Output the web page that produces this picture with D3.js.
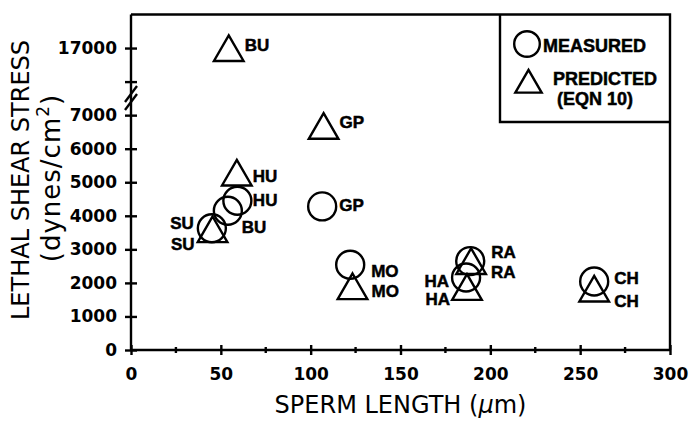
<!DOCTYPE html>
<html>
<head>
<meta charset="utf-8">
<script src="https://cdn.jsdelivr.net/npm/d3@7"></script>
<style>
  body { margin: 0; background: #fff; }
  svg { display: block; }
  .tick text { font-family: "DejaVu Sans", sans-serif; font-weight: bold; font-size: 17px; fill: #000; }
  .pt-label { font-family: "Liberation Sans", Arial, sans-serif; font-weight: bold; font-size: 17px;
              fill: #000; stroke: #000; stroke-width: 0.5px; }
  .ax-title { font-family: "DejaVu Sans", sans-serif; font-size: 24px; fill: #000; }
</style>
</head>
<body>
<svg id="chart" width="689" height="423"></svg>
<script>
// species codes
const measuredCodes = ['SU', 'BU', 'HU', 'GP', 'MO', 'HA', 'RA', 'CH'];
const measuredLength = [45, 53.9, 59.2, 106.4, 122, 186.5, 188.8, 257.8];
const measuredStress = [3630, 4150, 4450, 4280, 2540, 2160, 2650, 2040];

const predictedCodes = ['BU', 'GP', 'HU', 'SU', 'MO', 'RA', 'HA', 'CH'];
const predictedLength = [54.4, 107.2, 58.9, 45.4, 123.3, 189.3, 187, 257.8];
const predictedStress = [16870, 6550, 5160, 3470, 1770, 2520, 1750, 1700];

const xTicks = [0, 50, 100, 150, 200, 250, 300];
const xMinorTicks = [25, 75, 125, 175, 225, 275];
const yTicks = [0, 1000, 2000, 3000, 4000, 5000, 6000, 7000, 16000, 17000];
const yLabeled = [0, 1000, 2000, 3000, 4000, 5000, 6000, 7000, 17000];

// label placement next to each marker [dx, dy, anchor]
const measuredLabelPos = {
  SU: [-18, 1, 'end'], BU: [14, 22, 'start'], HU: [15.5, 5, 'start'], GP: [17, 5, 'start'],
  MO: [21, 12, 'start'], HA: [-17, 9, 'end'], RA: [21, -3, 'start'], CH: [20, 2, 'start']
};
const predictedLabelPos = {
  BU: [16, -1, 'start'], GP: [16, -2, 'start'], HU: [16, 5, 'start'], SU: [-18, 16, 'end'],
  MO: [19, 6, 'start'], RA: [20, 13, 'start'], HA: [-17, 14, 'end'], CH: [20, 14, 'start']
};

const plotLeft = 131, plotRight = 670, plotTop = 14.5, plotBottom = 350;
const breakY = 81.6;
const lineW = 2.4;

const svg = d3.select('#chart');

const x = d3.scaleLinear().domain([0, 300]).range([plotLeft, plotRight]);
// broken axis: 8000..16000 collapsed
const y = d3.scaleLinear()
  .domain([0, 8000, 16000, 18000])
  .range([plotBottom, breakY, breakY, plotTop]);

// frame (top + right)
svg.append('path')
  .attr('d', `M${plotLeft},${plotTop}H${plotRight}V${plotBottom}`)
  .attr('fill', 'none').attr('stroke', '#000').attr('stroke-width', lineW);

// x axis
const xAxis = svg.append('g')
  .attr('transform', `translate(0,${plotBottom})`)
  .call(d3.axisBottom(x).tickValues(xTicks).tickSize(5).tickPadding(10));
xAxis.select('.domain').attr('stroke-width', lineW).attr('d', `M${plotLeft},0H${plotRight}`);
xAxis.selectAll('.tick line').attr('y1', -5).attr('y2', 5).attr('stroke-width', lineW);
xAxis.selectAll('.tick text').attr('dy', '0.9em');

svg.append('g').selectAll('line').data(xMinorTicks).join('line')
  .attr('x1', d => x(d)).attr('x2', d => x(d))
  .attr('y1', plotBottom - 3).attr('y2', plotBottom + 3)
  .attr('stroke', '#000').attr('stroke-width', lineW);

// y axis
const yAxis = svg.append('g')
  .attr('transform', `translate(${plotLeft},0)`)
  .call(d3.axisLeft(y).tickValues(yTicks).tickSize(6).tickPadding(8)
    .tickFormat(d => yLabeled.includes(d) ? d : ''));
yAxis.select('.domain').attr('stroke-width', lineW).attr('d', `M0,${plotBottom}V${plotTop}`);
yAxis.selectAll('.tick line').attr('x1', -6).attr('x2', 6).attr('stroke-width', lineW);

// break marks
[94, 102].forEach(cy => {
  svg.append('line')
    .attr('x1', plotLeft - 6).attr('y1', cy + 8)
    .attr('x2', plotLeft + 6).attr('y2', cy - 8)
    .attr('stroke', '#000').attr('stroke-width', lineW);
});

// axis titles
svg.append('text').attr('class', 'ax-title')
  .attr('x', x(150)).attr('y', 413).attr('text-anchor', 'middle')
  .text('SPERM LENGTH (')
  .call(t => t.append('tspan').attr('font-style', 'italic').text('μ'))
  .call(t => t.append('tspan').text('m)'));

svg.append('text').attr('class', 'ax-title')
  .attr('transform', 'translate(28.5,180) rotate(-90)')
  .attr('text-anchor', 'middle')
  .text('LETHAL SHEAR STRESS');

const sub = svg.append('text').attr('class', 'ax-title')
  .attr('transform', 'translate(60,178) rotate(-90)')
  .attr('text-anchor', 'middle')
  .style('font-size', '26px').style('letter-spacing', '1px')
  .text('(dynes/cm');
sub.append('tspan').attr('font-size', '17px').attr('dy', -11).text('2');
sub.append('tspan').attr('dy', 11).text(')');

// markers
const tri = d3.symbol().type(d3.symbolTriangle).size(380);

const measured = measuredCodes.map((c, i) => ({ code: c, x: measuredLength[i], y: measuredStress[i] }));
const predicted = predictedCodes.map((c, i) => ({ code: c, x: predictedLength[i], y: predictedStress[i] }));

const gM = svg.append('g');
gM.selectAll('circle').data(measured).join('circle')
  .attr('cx', d => x(d.x)).attr('cy', d => y(d.y)).attr('r', 14)
  .attr('fill', 'none').attr('stroke', '#000').attr('stroke-width', lineW);
gM.selectAll('text').data(measured).join('text')
  .attr('class', 'pt-label')
  .attr('x', d => x(d.x) + measuredLabelPos[d.code][0])
  .attr('y', d => y(d.y) + measuredLabelPos[d.code][1])
  .attr('text-anchor', d => measuredLabelPos[d.code][2])
  .text(d => d.code);

const gP = svg.append('g');
gP.selectAll('path').data(predicted).join('path')
  .attr('d', tri)
  .attr('transform', d => `translate(${x(d.x)},${y(d.y)})`)
  .attr('fill', 'none').attr('stroke', '#000').attr('stroke-width', lineW);
gP.selectAll('text').data(predicted).join('text')
  .attr('class', 'pt-label')
  .attr('x', d => x(d.x) + predictedLabelPos[d.code][0])
  .attr('y', d => y(d.y) + predictedLabelPos[d.code][1])
  .attr('text-anchor', d => predictedLabelPos[d.code][2])
  .text(d => d.code);

// legend
const lg = svg.append('g');
lg.append('path')
  .attr('d', `M${plotRight},122H500V${plotTop}`)
  .attr('fill', 'none').attr('stroke', '#000').attr('stroke-width', lineW);
lg.append('circle').attr('cx', 527).attr('cy', 44).attr('r', 12.8)
  .attr('fill', 'none').attr('stroke', '#000').attr('stroke-width', lineW);
lg.append('path').attr('d', d3.symbol().type(d3.symbolTriangle).size(300))
  .attr('transform', 'translate(528.5,85)')
  .attr('fill', 'none').attr('stroke', '#000').attr('stroke-width', lineW);
const legendText = [['MEASURED', 543, 51.5], ['PREDICTED', 553, 85], ['(EQN 10)', 557, 105]];
lg.selectAll('text').data(legendText).join('text')
  .attr('class', 'pt-label').style('font-size', '18px')
  .attr('x', d => d[1]).attr('y', d => d[2])
  .text(d => d[0]);
</script>
</body>
</html>
